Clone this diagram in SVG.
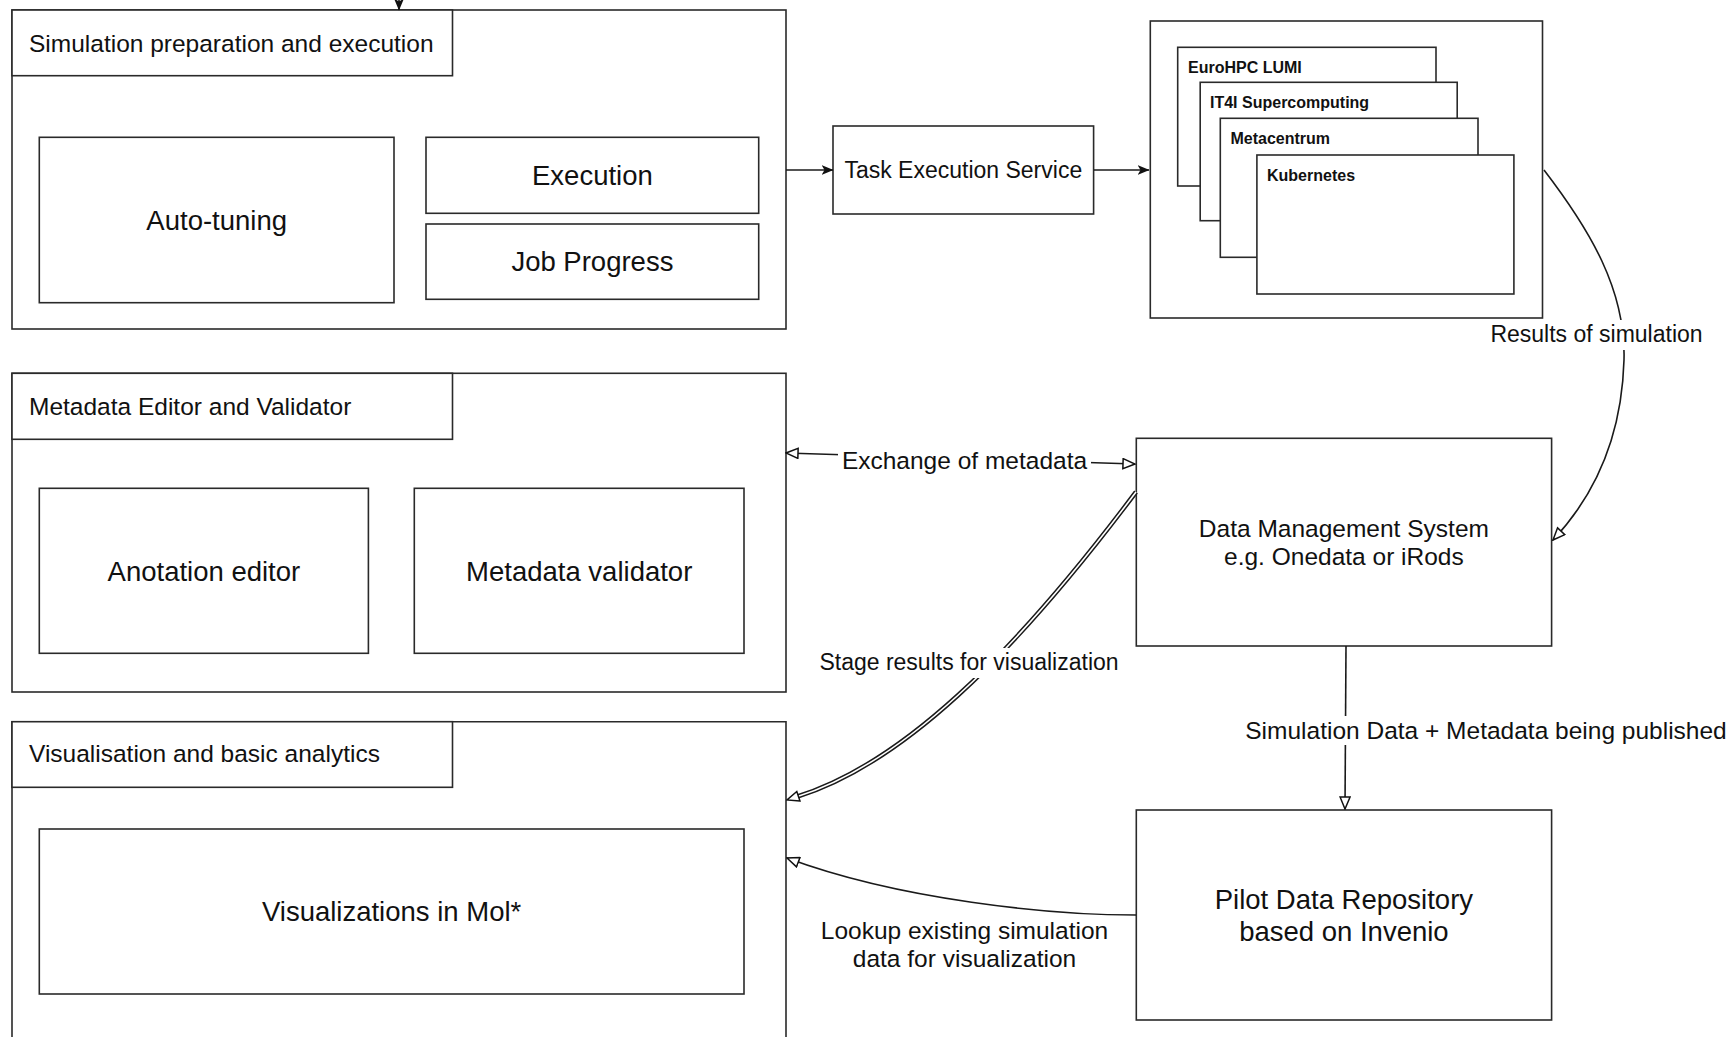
<svg xmlns="http://www.w3.org/2000/svg" width="1735" height="1037" viewBox="0 0 1735 1037">
<style>
.box{fill:#fff;stroke:#2a2a2a;stroke-width:1.6}
.t{font-family:"Liberation Sans",Arial,Helvetica,sans-serif;fill:#111}
.sec{font-size:24.5px}
.in{font-size:27.5px;text-anchor:middle}
.hpc{font-size:16px;font-weight:bold}
.lbl{font-size:24.5px;text-anchor:middle}
.sm{font-size:23px}
.c{fill:none;stroke:#1a1a1a;stroke-width:1.6}
.bg{fill:#fff}
</style>
<defs>
<marker id="arrFill" viewBox="0 0 12 10" refX="11.5" refY="5" markerWidth="12" markerHeight="10" markerUnits="userSpaceOnUse" orient="auto">
<path d="M0,0 L12,5 L0,10 L3,5 z" fill="#111"/>
</marker>
<marker id="arrOpen" viewBox="0 0 14 12" refX="13" refY="6" markerWidth="14" markerHeight="12" markerUnits="userSpaceOnUse" orient="auto-start-reverse">
<path d="M1,1 L13,6 L1,11 z" fill="#fff" stroke="#111" stroke-width="1.5"/>
</marker>
</defs>

<g id="sim-prep">
<rect class="box" x="12" y="10" width="774" height="319"/>
<rect class="box" x="12" y="10" width="440.5" height="65.7"/>
<text class="t sec" x="29" y="52">Simulation preparation and execution</text>
</g>
<g id="auto-tuning">
<rect class="box" x="39.3" y="137.3" width="354.7" height="165.4"/>
<text class="t in" x="216.7" y="229.8">Auto-tuning</text>
</g>
<g id="execution">
<rect class="box" x="426" y="137.3" width="332.7" height="76"/>
<text class="t in" x="592.4" y="185">Execution</text>
</g>
<g id="job-progress">
<rect class="box" x="426" y="224" width="332.7" height="75.3"/>
<text class="t in" x="592.4" y="271">Job Progress</text>
</g>

<g id="task-exec">
<rect class="box" x="833" y="126" width="260.6" height="88"/>
<text class="t sm" x="963.3" y="178.2" text-anchor="middle">Task Execution Service</text>
</g>

<g id="hpc">
<rect class="box" x="1150.3" y="21" width="392.2" height="297"/>
</g>
<g id="eurohpc">
<rect class="box" x="1177.7" y="47.3" width="258.3" height="138.7"/>
<text class="t hpc" x="1188" y="72.5">EuroHPC LUMI</text>
</g>
<g id="it4i">
<rect class="box" x="1200.2" y="82.3" width="257" height="138.4"/>
<text class="t hpc" x="1210" y="108">IT4I Supercomputing</text>
</g>
<g id="metacentrum">
<rect class="box" x="1220.3" y="118.3" width="257.7" height="139"/>
<text class="t hpc" x="1230.5" y="144">Metacentrum</text>
</g>
<g id="kubernetes">
<rect class="box" x="1256.9" y="155" width="257" height="139"/>
<text class="t hpc" x="1267" y="180.5">Kubernetes</text>
</g>

<g id="meta-editor">
<rect class="box" x="12" y="373.3" width="774" height="318.7"/>
<rect class="box" x="12" y="373.3" width="440.5" height="66"/>
<text class="t sec" x="29" y="414.5">Metadata Editor and Validator</text>
</g>
<g id="anotation-editor">
<rect class="box" x="39.3" y="488.3" width="329.1" height="165"/>
<text class="t in" x="203.9" y="580.6">Anotation editor</text>
</g>
<g id="metadata-validator">
<rect class="box" x="414.3" y="488.3" width="329.7" height="165"/>
<text class="t in" x="579.2" y="580.6">Metadata validator</text>
</g>

<g id="visualisation">
<path class="box" d="M12,1045 V721.7 H786 V1045"/>
<rect class="box" x="12" y="721.7" width="440.5" height="65.6"/>
<text class="t sec" x="29" y="762">Visualisation and basic analytics</text>
</g>
<g id="molstar">
<rect class="box" x="39.3" y="829" width="704.7" height="165"/>
<text class="t in" x="391.6" y="921.3">Visualizations in Mol*</text>
</g>

<g id="dms">
<rect class="box" x="1136.3" y="438.3" width="415.3" height="207.7"/>
<text class="t sec" x="1343.9" y="536.6" text-anchor="middle">Data Management System</text>
<text class="t sec" x="1343.9" y="565.4" text-anchor="middle">e.g. Onedata or iRods</text>
</g>
<g id="pilot-repo">
<rect class="box" x="1136.3" y="810" width="415.3" height="210"/>
<text class="t in" x="1343.9" y="909">Pilot Data Repository</text>
<text class="t in" x="1343.9" y="941">based on Invenio</text>
</g>

<g id="connectors">
<path class="c" d="M399,-2 V10" marker-end="url(#arrFill)"/>
<path class="c" d="M786,170 H833" marker-end="url(#arrFill)"/>
<path class="c" d="M1094,170 H1149" marker-end="url(#arrFill)"/>
<path class="c" d="M1544,170 C1590,230 1626,290 1624,360 C1622,430 1600,490 1553,540" marker-end="url(#arrOpen)"/>
<path class="c" d="M786,453 L1135,464" marker-start="url(#arrOpen)" marker-end="url(#arrOpen)"/>
<path d="M1136,492 C1010,660 900,765 796,797" fill="none" stroke="#1a1a1a" stroke-width="4.6"/>
<path d="M1136,492 C1010,660 900,765 796,797" fill="none" stroke="#fff" stroke-width="1.6"/>
<path d="M796,797 L787,800" fill="none" stroke="none" marker-end="url(#arrOpen)"/>
<path class="c" d="M1346,646 L1345,809" marker-end="url(#arrOpen)"/>
<path class="c" d="M1136,915 C1050,915 900,900 787,858" marker-end="url(#arrOpen)"/>

<rect class="bg" x="1487" y="320" width="220" height="30"/>
<text class="t sm" x="1596.5" y="342" text-anchor="middle">Results of simulation</text>
<rect class="bg" x="838" y="442" width="253" height="30"/>
<text class="t lbl" x="964.5" y="468.5">Exchange of metadata</text>
<rect class="bg" x="815" y="648" width="308" height="30"/>
<text class="t sm" x="969" y="670" text-anchor="middle">Stage results for visualization</text>
<rect class="bg" x="1242" y="716" width="488" height="29"/>
<text class="t lbl" x="1486" y="739">Simulation Data + Metadata being published</text>
<text class="t lbl" x="964.5" y="939">Lookup existing simulation</text>
<text class="t lbl" x="964.5" y="967">data for visualization</text>
</g>
</svg>
